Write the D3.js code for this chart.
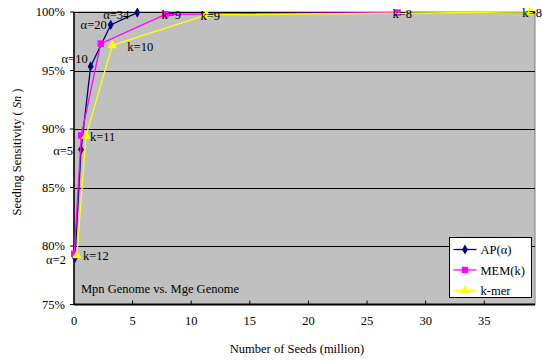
<!DOCTYPE html>
<html>
<head>
<meta charset="utf-8">
<script src="https://cdn.jsdelivr.net/npm/d3@7"></script>
<style>
  body { margin: 0; background: #fff; }
</style>
</head>
<body>
<svg id="chart" width="542" height="363" font-family="Liberation Serif, Times New Roman, DejaVu Serif, serif"></svg>
<script>
// data (x = million seeds, y = sensitivity %)
const apSeeds = [0.08, 0.6, 1.42, 3.13, 5.4];
const apSens = [79.0, 88.25, 95.35, 98.9, 99.95];
const apLabels = ["α=2", "α=5", "α=10", "α=20", "α=34"];

const memSeeds = [0.02, 0.62, 2.28, 7.8, 27.6];
const memSens = [79.35, 89.45, 97.3, 99.8, 99.95];
const memLabels = ["k=12", "k=11", "k=10", "k=9", "k=8"];

const kmerSeeds = [0.25, 1.02, 3.27, 11.3, 38.85];
const kmerSens = [79.2, 89.4, 97.15, 99.75, 100];
const kmerLabels = ["k=12", "k=11", "k=10", "k=9", "k=8"];

const xTicks = [0, 5, 10, 15, 20, 25, 30, 35];
const yTicks = [75, 80, 85, 90, 95, 100];

const fs = 12.5;
const svg = d3.select("#chart");
const plotL = 74, plotR = 535, plotT = 12, plotB = 304.6;

const x = d3.scaleLinear().domain([0, 39.33]).range([plotL, plotR]);
const y = d3.scaleLinear().domain([75, 100]).range([plotB, plotT]);

// plot area
svg.append("rect")
  .attr("x", plotL).attr("y", plotT)
  .attr("width", plotR - plotL).attr("height", plotB - plotT)
  .attr("fill", "#c0c0c0")
  .attr("stroke", "#808080").attr("stroke-width", 1);

// grid lines
svg.selectAll(".grid")
  .data(yTicks.filter(d => d > 75))
  .enter().append("line")
  .attr("x1", plotL).attr("x2", plotR)
  .attr("y1", d => Math.round(y(d)) + 0.5).attr("y2", d => Math.round(y(d)) + 0.5)
  .attr("stroke", "#000").attr("stroke-width", 1);

// axes
svg.append("line")
  .attr("x1", plotL).attr("x2", plotL).attr("y1", plotT).attr("y2", plotB)
  .attr("stroke", "#000").attr("stroke-width", 1.5);
svg.append("line")
  .attr("x1", plotL).attr("x2", plotR).attr("y1", plotB).attr("y2", plotB)
  .attr("stroke", "#000").attr("stroke-width", 2);

// x ticks (inside)
svg.selectAll(".xtick")
  .data(xTicks.filter(d => d > 0))
  .enter().append("line")
  .attr("x1", d => x(d)).attr("x2", d => x(d))
  .attr("y1", plotB).attr("y2", plotB - 4)
  .attr("stroke", "#000").attr("stroke-width", 1);

// y ticks (outside)
svg.selectAll(".ytick")
  .data(yTicks)
  .enter().append("line")
  .attr("x1", plotL - 4).attr("x2", plotL)
  .attr("y1", d => y(d)).attr("y2", d => y(d))
  .attr("stroke", "#000").attr("stroke-width", 1);

svg.selectAll(".xlab")
  .data(xTicks)
  .enter().append("text")
  .attr("x", d => x(d)).attr("y", 325)
  .attr("text-anchor", "middle")
  .attr("font-size", fs)
  .text(d => d);

svg.selectAll(".ylab")
  .data(yTicks)
  .enter().append("text")
  .attr("x", 65).attr("y", d => y(d) + 4)
  .attr("text-anchor", "end")
  .attr("font-size", fs)
  .text(d => d + "%");

svg.append("text")
  .attr("x", 297).attr("y", 353)
  .attr("text-anchor", "middle")
  .attr("font-size", fs)
  .text("Number of Seeds (million)");

const yTitle = svg.append("text")
  .attr("transform", "translate(21,152) rotate(-90)")
  .attr("text-anchor", "middle")
  .attr("font-size", fs);
yTitle.append("tspan").text("Seeding Sensitivity ( ");
yTitle.append("tspan").attr("font-style", "italic").text("Sn");
yTitle.append("tspan").text(" )");

svg.append("text")
  .attr("x", 81).attr("y", 293)
  .attr("font-size", fs)
  .text("Mpn Genome vs. Mge Genome");

// series
const series = [
  { name: "AP(α)", xs: apSeeds, ys: apSens, labels: apLabels, color: "#000080", marker: d3.symbolDiamond, size: 30 },
  { name: "MEM(k)", xs: memSeeds, ys: memSens, labels: memLabels, color: "#ff00ff", marker: d3.symbolSquare, size: 42 },
  { name: "k-mer", xs: kmerSeeds, ys: kmerSens, labels: kmerLabels, color: "#ffff00", marker: d3.symbolTriangle, size: 40 }
];

const line = d3.line().x(d => x(d[0])).y(d => y(d[1]));

series.forEach(s => {
  const pts = s.xs.map((v, i) => [v, s.ys[i]]);
  svg.append("path")
    .attr("d", line(pts))
    .attr("fill", "none")
    .attr("stroke", s.color)
    .attr("stroke-width", 1.3);
  svg.selectAll(null)
    .data(pts)
    .enter().append("path")
    .attr("d", d3.symbol().type(s.marker).size(s.size))
    .attr("transform", d => `translate(${x(d[0])},${y(d[1])})`)
    .attr("fill", s.color);
});

// data labels (offsets as placed in the picture)
const apOff = [[-9, 6], [-8, 5], [-3, -3], [-4, 4], [-8, 6]];
const memOff = [[0, 0], [0, 0], [0, 0], [-4, 5], [-5, 5]];
const kmerOff = [[6, 5], [4, 5], [15, 6], [-6, 5], [-7, 5]];

apLabels.forEach((t, i) => {
  svg.append("text")
    .attr("x", x(apSeeds[i]) + apOff[i][0]).attr("y", y(apSens[i]) + apOff[i][1])
    .attr("text-anchor", "end")
    .attr("font-size", fs)
    .text(t);
});
[3, 4].forEach(i => {
  svg.append("text")
    .attr("x", x(memSeeds[i]) + memOff[i][0]).attr("y", y(memSens[i]) + memOff[i][1])
    .attr("font-size", fs)
    .text(memLabels[i]);
});
kmerLabels.forEach((t, i) => {
  svg.append("text")
    .attr("x", x(kmerSeeds[i]) + kmerOff[i][0]).attr("y", y(kmerSens[i]) + kmerOff[i][1])
    .attr("font-size", fs)
    .text(t);
});

// legend
const lg = svg.append("g").attr("transform", "translate(449.5,237.5)");
lg.append("rect").attr("width", 82).attr("height", 60)
  .attr("fill", "#fff").attr("stroke", "#000").attr("stroke-width", 1);
series.forEach((s, i) => {
  const cy = 12 + i * 20.5;
  lg.append("line").attr("x1", 4).attr("x2", 27).attr("y1", cy).attr("y2", cy)
    .attr("stroke", s.color).attr("stroke-width", 1.3);
  lg.append("path")
    .attr("d", d3.symbol().type(s.marker).size(s.size))
    .attr("transform", `translate(15.5,${cy})`)
    .attr("fill", s.color);
  lg.append("text").attr("x", 31).attr("y", cy + 4.5)
    .attr("font-size", fs).text(s.name);
});
</script>
</body>
</html>
